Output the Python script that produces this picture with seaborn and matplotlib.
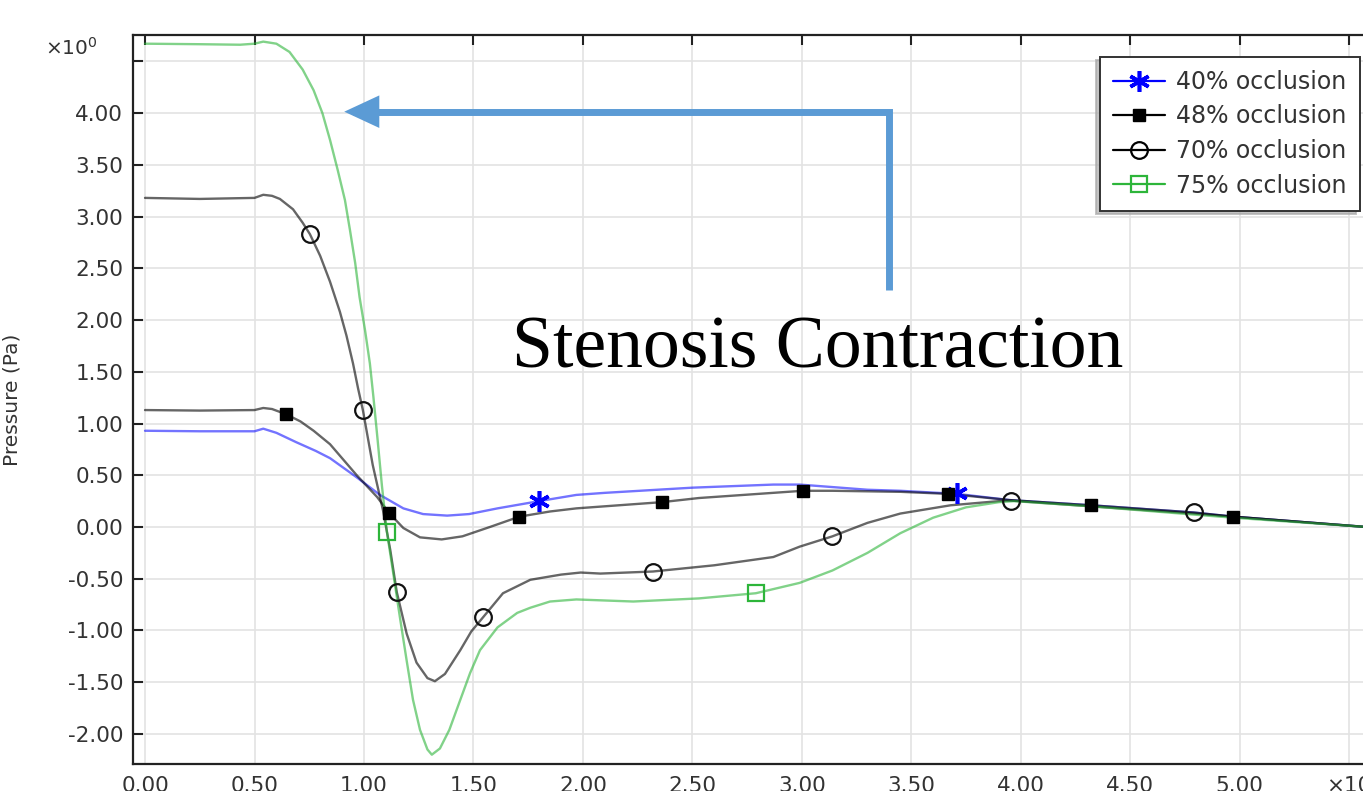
import numpy as np
import pandas as pd
import matplotlib
matplotlib.use("Agg")
import matplotlib.pyplot as plt
from matplotlib.lines import Line2D
import seaborn as sns

# ---------------- data ----------------
x40 = [0.00, 0.25, 0.50, 0.54, 0.60, 0.69, 0.78, 0.845, 0.967, 1.073, 1.18, 1.27, 1.38, 1.48,
       1.61, 1.80, 1.97, 2.10, 2.50, 2.87, 2.99, 3.30, 3.45, 3.71, 3.95, 4.32, 4.79, 4.97, 5.58]
y40 = [0.93, 0.925, 0.925, 0.95, 0.91, 0.82, 0.735, 0.665, 0.48, 0.31, 0.18, 0.125, 0.11, 0.125,
       0.18, 0.25, 0.31, 0.33, 0.38, 0.41, 0.41, 0.36, 0.35, 0.32, 0.26, 0.21, 0.14, 0.10, 0.0]

x48 = [0.00, 0.25, 0.50, 0.54, 0.58, 0.644, 0.71, 0.77, 0.845, 0.967, 1.06, 1.115, 1.18, 1.256,
       1.355, 1.45, 1.575, 1.71, 1.85, 1.97, 2.36, 2.53, 3.005, 3.14, 3.45, 3.67, 3.95, 4.32,
       4.79, 4.97, 5.58]
y48 = [1.13, 1.125, 1.13, 1.15, 1.14, 1.09, 1.02, 0.93, 0.80, 0.50, 0.29, 0.135, -0.01, -0.10,
       -0.12, -0.09, 0.0, 0.10, 0.15, 0.18, 0.24, 0.28, 0.35, 0.35, 0.34, 0.32, 0.26, 0.21,
       0.14, 0.10, 0.0]

x70 = [0.00, 0.25, 0.50, 0.54, 0.58, 0.616, 0.676, 0.72, 0.753, 0.80, 0.845, 0.89, 0.92, 0.95,
       0.973, 0.995, 1.04, 1.087, 1.12, 1.15, 1.195, 1.24, 1.29, 1.324, 1.37, 1.44, 1.49, 1.545,
       1.635, 1.76, 1.90, 1.99, 2.08, 2.32, 2.60, 2.87, 2.99, 3.14, 3.30, 3.45, 3.68, 3.90,
       3.955, 4.32, 4.79, 4.97, 5.58]
y70 = [3.18, 3.17, 3.18, 3.21, 3.20, 3.17, 3.07, 2.94, 2.83, 2.62, 2.37, 2.08, 1.85, 1.58,
       1.34, 1.13, 0.60, 0.16, -0.22, -0.63, -1.03, -1.31, -1.46, -1.49, -1.42, -1.19, -1.01,
       -0.87, -0.64, -0.51, -0.46, -0.44, -0.45, -0.43, -0.37, -0.29, -0.19, -0.09, 0.04, 0.13,
       0.21, 0.25, 0.255, 0.20, 0.13, 0.10, 0.0]

x75 = [0.00, 0.25, 0.434, 0.50, 0.54, 0.60, 0.66, 0.72, 0.77, 0.81, 0.845, 0.88, 0.913, 0.936,
       0.96, 0.98, 1.005, 1.027, 1.043, 1.062, 1.082, 1.105, 1.134, 1.164, 1.195, 1.224, 1.256,
       1.29, 1.31, 1.347, 1.39, 1.44, 1.485, 1.53, 1.61, 1.70, 1.76, 1.85, 1.97, 2.10, 2.23,
       2.53, 2.79, 2.99, 3.14, 3.30, 3.45, 3.60, 3.75, 3.90, 3.97, 4.32, 4.79, 4.97, 5.58]
y75 = [4.67, 4.665, 4.66, 4.67, 4.69, 4.67, 4.59, 4.42, 4.22, 4.00, 3.74, 3.45, 3.16, 2.87,
       2.55, 2.22, 1.90, 1.58, 1.26, 0.85, 0.40, -0.05, -0.45, -0.87, -1.29, -1.67, -1.96,
       -2.15, -2.20, -2.14, -1.96, -1.67, -1.41, -1.19, -0.97, -0.83, -0.78, -0.72, -0.70,
       -0.71, -0.72, -0.69, -0.64, -0.54, -0.42, -0.25, -0.06, 0.09, 0.19, 0.24, 0.25, 0.20,
       0.12, 0.09, 0.0]

# marker positions
mk40_x = [1.80, 3.71]
mk40_y = [0.25, 0.33]
mk48_x = [0.644, 1.115, 1.71, 2.36, 3.005, 3.67, 4.32, 4.97]
mk48_y = [1.09, 0.135, 0.10, 0.24, 0.35, 0.32, 0.21, 0.10]
mk70_x = [0.753, 0.995, 1.15, 1.545, 2.32, 3.14, 3.955, 4.79]
mk70_y = [2.83, 1.13, -0.63, -0.87, -0.43, -0.09, 0.255, 0.145]
mk75_x = [1.105, 2.79]
mk75_y = [-0.05, -0.64]

labels = ["40% occlusion", "48% occlusion", "70% occlusion", "75% occlusion"]
xticks = [0.0, 0.5, 1.0, 1.5, 2.0, 2.5, 3.0, 3.5, 4.0, 4.5, 5.0, 5.5]
xticklabels = ["0.00", "0.50", "1.00", "1.50", "2.00", "2.50", "3.00", "3.50", "4.00",
               "4.50", "5.00", "×10"]
yticks = [-2.0, -1.5, -1.0, -0.5, 0.0, 0.5, 1.0, 1.5, 2.0, 2.5, 3.0, 3.5, 4.0, 4.5]
yticklabels = ["-2.00", "-1.50", "-1.00", "-0.50", "0.00", "0.50", "1.00", "1.50", "2.00",
               "2.50", "3.00", "3.50", "4.00", ""]

# ---------------- figure ----------------
sns.set_theme(style="white")
plt.rcParams["font.family"] = ["DejaVu Sans"]

W, H = 1363, 791
fig = plt.figure(figsize=(W / 100, H / 100), dpi=100)
ax = fig.add_axes([133 / W, (H - 764) / H, (1371 - 133) / W, (764 - 35) / H])
ax.set_xlim(-0.055, 5.6)
ax.set_ylim(-2.29, 4.754)

ax.set_xticks(xticks)
ax.set_xticklabels(xticklabels)
ax.set_yticks(yticks)
ax.set_yticklabels(yticklabels)
ax.grid(True, color="#e3e3e3", linewidth=1.2)
ax.set_axisbelow(True)

ax.tick_params(axis="both", direction="in", length=7, width=1.5, color="#222222",
               labelsize=15.5, labelcolor="#333333")
ax.tick_params(axis="x", top=True, labeltop=False, pad=9)
ax.tick_params(axis="y", left=True, pad=7)
for s in ["left", "top", "bottom"]:
    ax.spines[s].set_color("#222222")
    ax.spines[s].set_linewidth(1.6)
ax.spines["right"].set_visible(False)

line_colors = ["#0000ff", "#000000", "#000000", "#2db53a"]
line_alpha = [0.55, 0.6, 0.6, 0.6]
series = [(x40, y40), (x48, y48), (x70, y70), (x75, y75)]
for (xs, ys), c, a in zip(series, line_colors, line_alpha):
    sns.lineplot(x=xs, y=ys, sort=False, estimator=None, color=c, alpha=a,
                 linewidth=1.7, ax=ax)
for ln in ax.get_lines():
    ln.set_solid_joinstyle("round")

ax.plot(mk40_x, mk40_y, linestyle="none", marker=(6, 2, 0), markersize=15,
        markeredgewidth=2.6, color="#0000ff", zorder=5)
ax.plot(mk48_x, mk48_y, linestyle="none", marker="s", markersize=8,
        color="#000000", zorder=5)
ax.plot(mk70_x, mk70_y, linestyle="none", marker="o", markersize=12,
        markerfacecolor="none", markeredgecolor="#111111", markeredgewidth=1.6, zorder=5)
ax.plot(mk75_x, mk75_y, linestyle="none", marker="s", markersize=12,
        markerfacecolor="none", markeredgecolor="#2db53a", markeredgewidth=1.6, zorder=5)

handles = [
    Line2D([], [], color="#0000ff", lw=1.6, marker=(6, 2, 0), markersize=15, markeredgewidth=2.6),
    Line2D([], [], color="#000000", lw=1.6, marker="s", markersize=8),
    Line2D([], [], color="#000000", lw=1.6, marker="o", markersize=12,
           markerfacecolor="none", markeredgewidth=1.6),
    Line2D([], [], color="#2db53a", lw=1.6, marker="s", markersize=12,
           markerfacecolor="none", markeredgewidth=1.6),
]
leg = ax.legend(handles, labels, loc="upper right", bbox_to_anchor=(0.991, 0.970),
                borderaxespad=0, fontsize=17, frameon=True, fancybox=False,
                framealpha=1, edgecolor="#333333", handlelength=2.2, handletextpad=0.5,
                labelspacing=0.45, borderpad=0.55,
                shadow={"ox": -2.5, "oy": -2.5, "color": "#aaaaaa", "alpha": 0.7})
for t in leg.get_texts():
    t.set_color("#333333")
leg.get_frame().set_linewidth(1.4)

ax.set_ylabel("Pressure (Pa)", fontsize=14.5, color="#333333")
ax.yaxis.set_label_coords((22 - 133) / 1238, 0.5)

fig.text(45 / W, 1 - 48 / H, r"$\times10^{0}$", fontsize=14.5, color="#333333",
         ha="left", va="center")

# annotation (bent arrow + text)
arrow_c = "#5b9bd5"
ax.annotate("", xy=(0.91, 4.013), xytext=(3.397, 2.29),
            arrowprops=dict(arrowstyle="-|>,head_length=1.4,head_width=0.65",
                            connectionstyle="angle,angleA=90,angleB=0,rad=0",
                            color=arrow_c, lw=5, shrinkA=0, shrinkB=0,
                            joinstyle="miter", capstyle="butt"), zorder=6)
ax.text(1.676, 1.54, "Stenosis Contraction", fontsize=53, family="Liberation Serif",
        color="#000000", ha="left", va="baseline", zorder=7)

fig.savefig("out.png", dpi=100)
